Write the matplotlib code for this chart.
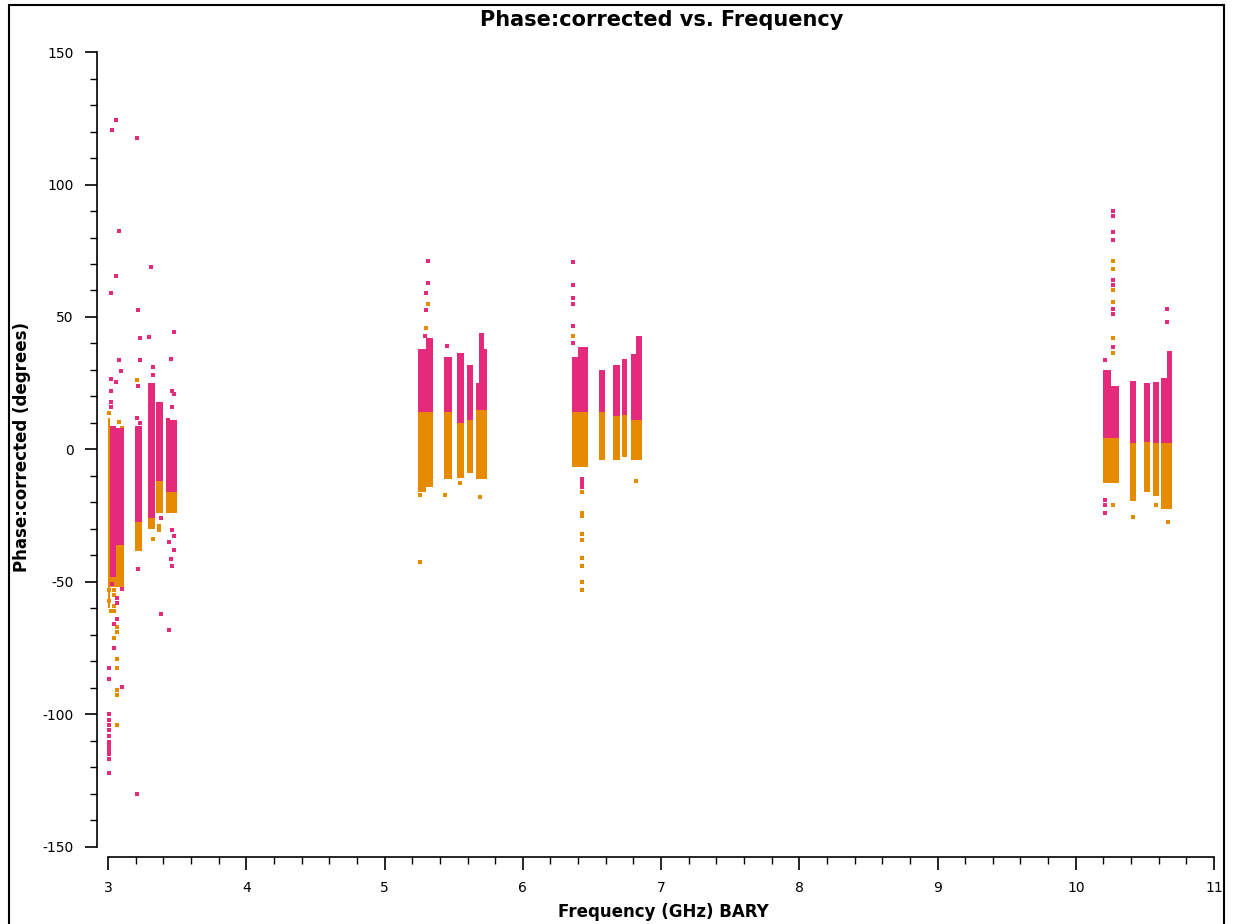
import matplotlib
matplotlib.use("Agg")
import matplotlib.pyplot as plt
from matplotlib.patches import Rectangle
from matplotlib.ticker import MultipleLocator

plt.rcParams['axes.unicode_minus'] = False

PINK = "#e62a7b"
ORANGE = "#e68a00"

# dense channel blocks, one per spectral window chunk (GHz, degrees)
pink_f0 = [3.015, 3.058, 3.195, 3.289, 3.347, 3.420,
           5.242, 5.300, 5.430, 5.524, 5.597, 5.662, 5.684, 5.720,
           6.356, 6.400, 6.552, 6.653, 6.718, 6.783, 6.819,
           10.197, 10.255, 10.392, 10.494, 10.559, 10.617, 10.660]
pink_f1 = [3.058, 3.112, 3.246, 3.340, 3.398, 3.500,
           5.300, 5.351, 5.488, 5.575, 5.640, 5.684, 5.720, 5.741,
           6.400, 6.472, 6.595, 6.703, 6.754, 6.819, 6.863,
           10.255, 10.313, 10.436, 10.537, 10.602, 10.660, 10.696]
pink_lo = [-48, -36, -27.5, -26, -12, -16,
           14, 14, 14, 10, 11, 15, 15, 15,
           14, 14, 14, 12.5, 13, 11, 11,
           4.5, 4.5, 2.6, 3, 2.6, 2.6, 2.6]
pink_hi = [9, 8, 9, 25, 18, 11,
           38, 42, 35, 36.6, 32, 25, 44, 38,
           35, 38.5, 30, 31.7, 34, 36, 43,
           30, 24, 26, 25, 25.3, 27, 37]

orng_f0 = [3.000, 3.015, 3.195, 3.289, 3.347, 3.420,
           5.242, 5.300, 5.430, 5.524, 5.597, 5.662,
           6.356, 6.552, 6.653, 6.718, 6.783,
           10.197, 10.392, 10.494, 10.559, 10.617]
orng_f1 = [3.015, 3.112, 3.246, 3.340, 3.398, 3.500,
           5.300, 5.351, 5.488, 5.575, 5.640, 5.741,
           6.472, 6.595, 6.703, 6.754, 6.863,
           10.313, 10.436, 10.537, 10.602, 10.696]
orng_lo = [-60, -52, -38.5, -30, -24, -24,
           -16, -14, -11, -10.6, -9, -11,
           -6.5, -4, -4, -3, -4,
           -12.5, -19.6, -16, -17.6, -22.6]
orng_hi = [12, 0, -20, -20, -5, -10,
           14, 14, 14, 10, 11, 15,
           14, 14, 12.5, 13, 11,
           4.5, 2.6, 3, 2.6, 2.6]

# scattered points outside the blocks
pink_pt_f = [3.058, 3.029, 3.080, 3.058, 3.022, 3.080, 3.094, 3.022, 3.058, 3.022, 3.022, 3.022,
             3.210, 3.217, 3.231, 3.231, 3.217, 3.210, 3.231,
             3.311, 3.297, 3.326, 3.326,
             3.477, 3.456, 3.463, 3.477, 3.463, 3.434,
             3.029, 3.101, 3.065, 3.065, 3.065, 3.043, 3.043, 3.007, 3.007, 3.101,
             3.007, 3.007, 3.007, 3.007, 3.007, 3.007, 3.007, 3.007, 3.007, 3.007, 3.007,
             3.210, 3.217, 3.383, 3.383, 3.463, 3.477, 3.441, 3.477, 3.456, 3.463, 3.441,
             5.315, 5.315, 5.300, 5.300, 5.293, 5.452,
             6.363, 6.363, 6.363, 6.363, 6.363, 6.363, 6.429, 6.429, 6.429,
             10.269, 10.269, 10.269, 10.269, 10.269, 10.269, 10.269, 10.269, 10.269,
             10.212, 10.212, 10.212, 10.212, 10.660, 10.660]
pink_pt_p = [124.5, 120.4, 82.6, 65.4, 58.9, 33.6, 29.6, 26.5, 25.3, 22, 18, 16,
             117.4, 52.5, 42, 33.6, 23.8, 11.7, 10,
             69, 42.3, 31, 28,
             44.5, 34.3, 22, 21, 16, 11,
             -50.6, -52.5, -56, -58, -64, -66, -75, -82.6, -86.8, -89.8,
             -100, -102, -104, -106, -108, -110.5, -112, -113.6, -115, -117, -122,
             -130, -45, -26, -62, -30.5, -32.5, -35, -38, -41.5, -44, -68,
             71, 63, 59, 52.5, 43, 39,
             70.6, 62, 57, 55, 46.5, 40, -11, -12.5, -14,
             90, 88, 82, 79, 64, 62, 53, 51, 38.5,
             33.6, -19, -21, -24, 53, 48]

orng_pt_f = [3.007, 3.080, 3.101, 3.210,
             3.007, 3.043, 3.043, 3.007, 3.043, 3.043, 3.022, 3.065, 3.065, 3.043,
             3.065, 3.065, 3.065, 3.065, 3.065, 3.326, 3.369, 3.369,
             5.315, 5.300, 5.257, 5.257, 5.438, 5.546, 5.691,
             6.363, 6.429, 6.429, 6.429, 6.429, 6.429, 6.429, 6.429, 6.429, 6.429, 6.819,
             10.269, 10.269, 10.269, 10.269, 10.269, 10.269, 10.269,
             10.414, 10.580, 10.667]
orng_pt_p = [13.6, 10.5, 8, 26.4,
             -53, -53, -55, -57, -59, -61, -61, -67, -69, -71,
             -79, -82.5, -90.6, -92.5, -103.8, -33.6, -29, -30.5,
             55, 46, -42.6, -17, -17, -12.6, -18,
             43, -16, -24, -25, -32, -34, -41, -44, -50, -53, -12,
             71, 68, 60, 55.5, 42, 36.6, -21,
             -25.6, -21, -27.5]

fig = plt.figure(figsize=(12.36, 9.24), dpi=100)
ax = fig.add_axes([0.0785, 0.0725, 0.9037, 0.8712])

pw = [b - a for a, b in zip(pink_f0, pink_f1)]
ph = [b - a for a, b in zip(pink_lo, pink_hi)]
ow = [b - a for a, b in zip(orng_f0, orng_f1)]
oh = [b - a for a, b in zip(orng_lo, orng_hi)]

ax.bar(orng_f0, oh, width=ow, bottom=orng_lo, align='edge', color=ORANGE, linewidth=0)
ax.scatter(orng_pt_f, orng_pt_p, s=6, marker='s', color=ORANGE, linewidths=0)
ax.bar(pink_f0, ph, width=pw, bottom=pink_lo, align='edge', color=PINK, linewidth=0)
ax.scatter(pink_pt_f, pink_pt_p, s=6, marker='s', color=PINK, linewidths=0)

ax.set_xlim(2.92, 11)
ax.set_ylim(-153.8, 150)
ax.xaxis.set_major_locator(MultipleLocator(1))
ax.xaxis.set_minor_locator(MultipleLocator(0.2))
ax.yaxis.set_major_locator(MultipleLocator(50))
ax.yaxis.set_minor_locator(MultipleLocator(10))
ax.tick_params(which='major', direction='out', length=9, width=1.2, labelsize=10, pad=8)
ax.tick_params(which='minor', direction='out', length=5, width=1.0)

for s in ('top', 'right'):
    ax.spines[s].set_visible(False)
ax.spines['left'].set_bounds(-150, 150)
ax.spines['bottom'].set_bounds(3, 11)
ax.spines['left'].set_linewidth(1.2)
ax.spines['bottom'].set_linewidth(1.2)

fig.text(0.5356, 0.978, "Phase:corrected vs. Frequency", ha='center', va='center',
         fontsize=15, fontweight='bold')
fig.text(0.5364, 0.013, "Frequency (GHz) BARY", ha='center', va='center',
         fontsize=12, fontweight='bold')
fig.text(0.0178, 0.516, "Phase:corrected (degrees)", ha='center', va='center',
         rotation=90, fontsize=12, fontweight='bold')

# outer frame around the plot
fig.add_artist(Rectangle((9 / 1236, -0.01), 1215 / 1236, 1 - 5 / 924 + 0.01,
                         transform=fig.transFigure, fill=False,
                         edgecolor='black', linewidth=1.5, clip_on=False))

fig.savefig("out.png", dpi=100)
